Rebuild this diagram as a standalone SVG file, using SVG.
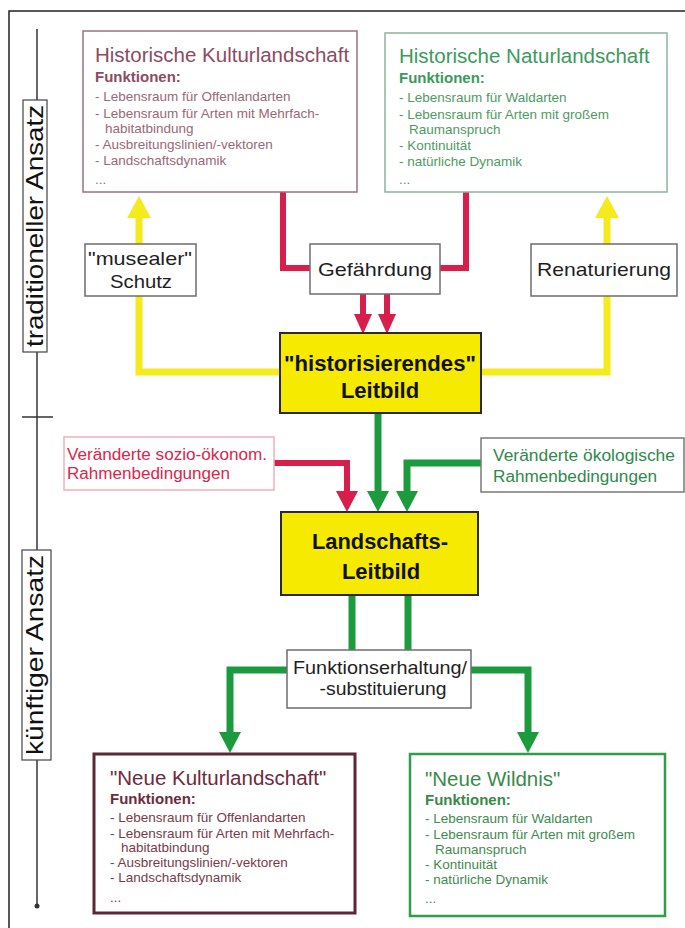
<svg xmlns="http://www.w3.org/2000/svg" width="685" height="928" viewBox="0 0 685 928">
<defs>
<style>
text{font-family:"Liberation Sans",Arial,sans-serif}
.bx{fill:#fff}
.small{fill:#fff;stroke:#6d6d6d;stroke-width:1.5}
.yel{fill:#f6ea00;stroke:#2a2a2a;stroke-width:2}
.lbl{font-size:19px;fill:#1e1e1e;text-anchor:middle}
.ttl{font-size:20.5px}
.fk{font-size:15px;font-weight:bold}
.bl{font-size:13.5px}
.yb{font-size:22px;font-weight:bold;fill:#111;text-anchor:middle}
.ax{font-size:24px;fill:#111;text-anchor:middle}
.cy{fill:none;stroke:#f4ea1c;stroke-width:7}
.cr{fill:none;stroke:#d81f4c;stroke-width:6}
.cg{fill:none;stroke:#1c9a3e;stroke-width:7}
</style>
<marker id="ahY" markerUnits="userSpaceOnUse" viewBox="0 0 22 24" markerWidth="22" markerHeight="24" refX="0" refY="12" orient="auto"><path d="M0,0 L22,12 L0,24 z" fill="#f4ea1c"/></marker>
<marker id="ahR" markerUnits="userSpaceOnUse" viewBox="0 0 20 18" markerWidth="20" markerHeight="18" refX="0" refY="9" orient="auto"><path d="M0,0 L20,9 L0,18 z" fill="#d81f4c"/></marker>
<marker id="ahR2" markerUnits="userSpaceOnUse" viewBox="0 0 21 22" markerWidth="21" markerHeight="22" refX="0" refY="11" orient="auto"><path d="M0,0 L21,11 L0,22 z" fill="#d81f4c"/></marker>
<marker id="ahG" markerUnits="userSpaceOnUse" viewBox="0 0 21 22" markerWidth="21" markerHeight="22" refX="0" refY="11" orient="auto"><path d="M0,0 L21,11 L0,22 z" fill="#1c9a3e"/></marker>
</defs>
<rect width="685" height="928" fill="#fff"/>
<path d="M9 928 V11 H685" fill="none" stroke="#222" stroke-width="1.5"/>

<g id="axis">
<line x1="37" y1="29" x2="37" y2="905" stroke="#333" stroke-width="1.5"/>
<circle cx="37" cy="906" r="2.5" fill="#333"/>
<line x1="22" y1="417" x2="53" y2="417" stroke="#333" stroke-width="1.5"/>
</g>
<g id="label-traditionell">
<rect x="23" y="100" width="24" height="252" fill="#fff" stroke="#444" stroke-width="1.2"/>
<text class="ax" transform="translate(43,226) rotate(-90)" textLength="242" lengthAdjust="spacingAndGlyphs">traditioneller Ansatz</text>
</g>
<g id="label-kuenftig">
<rect x="22" y="550" width="29" height="210" fill="#fff" stroke="#444" stroke-width="1.2"/>
<text class="ax" transform="translate(43,655) rotate(-90)" textLength="200" lengthAdjust="spacingAndGlyphs">künftiger Ansatz</text>
</g>

<g id="connectors">
<path class="cy" d="M280 372 H139 V218" marker-end="url(#ahY)"/>
<path class="cy" d="M481 372 H607 V218" marker-end="url(#ahY)"/>
<path class="cr" d="M283 192 V268 H310"/>
<path class="cr" d="M466 192 V268 H440"/>
<path class="cr" d="M363 293 V314" marker-end="url(#ahR)"/>
<path class="cr" d="M387 293 V314" marker-end="url(#ahR)"/>
<path class="cg" d="M378 413 V491" marker-end="url(#ahG)"/>
<path class="cr" d="M274 463 H347 V491" stroke-width="7" marker-end="url(#ahR2)"/>
<path class="cg" d="M481 463 H407 V491" marker-end="url(#ahG)"/>
<path class="cg" d="M352 595 V650"/>
<path class="cg" d="M408 595 V650"/>
<path class="cg" d="M287 670 H230 V732" marker-end="url(#ahG)"/>
<path class="cg" d="M471 670 H528 V732" marker-end="url(#ahG)"/>
</g>

<g id="hist-kultur">
<rect x="83" y="31" width="274" height="161" fill="#fff" stroke="#9a7080" stroke-width="1.5"/>
<text class="ttl" x="95" y="62" fill="#8e4a62">Historische Kulturlandschaft</text>
<text class="fk" x="95" y="82" fill="#8e4a62">Funktionen:</text>
<g class="bl" fill="#9a6878">
<text x="95" y="101">- Lebensraum für Offenlandarten</text>
<text x="95" y="118">- Lebensraum für Arten mit Mehrfach-</text>
<text x="105" y="133">habitatbindung</text>
<text x="95" y="149">- Ausbreitungslinien/-vektoren</text>
<text x="95" y="165">- Landschaftsdynamik</text>
<text x="95" y="184">...</text>
</g>
</g>

<g id="hist-natur">
<rect x="385" y="33" width="282" height="159" fill="#fff" stroke="#8ab49a" stroke-width="1.5"/>
<text class="ttl" x="399" y="63" fill="#3c9a5c">Historische Naturlandschaft</text>
<text class="fk" x="399" y="83" fill="#3c9a5c">Funktionen:</text>
<g class="bl" fill="#4f9a62">
<text x="399" y="102">- Lebensraum für Waldarten</text>
<text x="399" y="119">- Lebensraum für Arten mit großem</text>
<text x="409" y="134">Raumanspruch</text>
<text x="399" y="150">- Kontinuität</text>
<text x="399" y="166">- natürliche Dynamik</text>
<text x="399" y="184">...</text>
</g>
</g>

<g id="musealer">
<rect class="small" x="85" y="244" width="111" height="52"/>
<text class="lbl" x="140" y="265" textLength="104" lengthAdjust="spacingAndGlyphs">"musealer"</text>
<text class="lbl" x="141" y="288" textLength="62" lengthAdjust="spacingAndGlyphs">Schutz</text>
</g>

<g id="gefaehrdung">
<rect class="small" x="310" y="244" width="130" height="50"/>
<text class="lbl" x="375" y="276" textLength="114" lengthAdjust="spacingAndGlyphs">Gefährdung</text>
</g>

<g id="renaturierung">
<rect class="small" x="531" y="244" width="146" height="52"/>
<text class="lbl" x="604" y="276" textLength="134" lengthAdjust="spacingAndGlyphs">Renaturierung</text>
</g>

<g id="historisierendes">
<rect class="yel" x="280" y="333" width="201" height="80"/>
<text class="yb" x="380" y="371" textLength="192" lengthAdjust="spacingAndGlyphs">"historisierendes"</text>
<text class="yb" x="380" y="398">Leitbild</text>
</g>

<g id="sozio">
<rect x="64" y="437" width="210" height="53" fill="#fff" stroke="#f0b0ba" stroke-width="1.5"/>
<text x="67" y="460" font-size="16" fill="#d8264e" textLength="200" lengthAdjust="spacingAndGlyphs">Veränderte sozio-ökonom.</text>
<text x="67" y="479" font-size="16" fill="#d8264e" textLength="163" lengthAdjust="spacingAndGlyphs">Rahmenbedingungen</text>
</g>

<g id="oekologisch">
<rect x="481" y="438" width="203" height="54" fill="#fff" stroke="#7a7a7a" stroke-width="1.5"/>
<text x="493" y="461" font-size="16" fill="#2e8a4a" textLength="182" lengthAdjust="spacingAndGlyphs">Veränderte ökologische</text>
<text x="493" y="482" font-size="16" fill="#2e8a4a" textLength="164" lengthAdjust="spacingAndGlyphs">Rahmenbedingungen</text>
</g>

<g id="landschaftsleitbild">
<rect class="yel" x="281" y="512" width="197" height="83"/>
<text class="yb" x="380" y="549" font-size="21.5" textLength="136" lengthAdjust="spacingAndGlyphs">Landschafts-</text>
<text class="yb" x="381" y="579" font-size="21.5">Leitbild</text>
</g>

<g id="funktionserhaltung">
<rect class="small" x="287" y="650" width="184" height="58"/>
<text class="lbl" x="380" y="674" font-size="17" textLength="174" lengthAdjust="spacingAndGlyphs">Funktionserhaltung/</text>
<text class="lbl" x="383" y="695" font-size="17" textLength="127" lengthAdjust="spacingAndGlyphs">-substituierung</text>
</g>

<g id="neue-kultur">
<rect x="94" y="754" width="261" height="159" fill="#fff" stroke="#5e2636" stroke-width="3"/>
<text class="ttl" x="110" y="785" fill="#6e2a3e">"Neue Kulturlandschaft"</text>
<text class="fk" x="110" y="804" fill="#6e2a3e">Funktionen:</text>
<g class="bl" fill="#7a3a4a">
<text x="110" y="822">- Lebensraum für Offenlandarten</text>
<text x="110" y="838">- Lebensraum für Arten mit Mehrfach-</text>
<text x="121" y="852">habitatbindung</text>
<text x="110" y="867">- Ausbreitungslinien/-vektoren</text>
<text x="110" y="882">- Landschaftsdynamik</text>
<text x="110" y="902">...</text>
</g>
</g>

<g id="neue-wildnis">
<rect x="410" y="754" width="255" height="162" fill="#fff" stroke="#2e9e4a" stroke-width="2.5"/>
<text class="ttl" x="425" y="786" fill="#3a8a4a">"Neue Wildnis"</text>
<text class="fk" x="425" y="805" fill="#3a8a4a">Funktionen:</text>
<g class="bl" fill="#3f8a50">
<text x="425" y="823">- Lebensraum für Waldarten</text>
<text x="425" y="839">- Lebensraum für Arten mit großem</text>
<text x="435" y="854">Raumanspruch</text>
<text x="425" y="869">- Kontinuität</text>
<text x="425" y="884">- natürliche Dynamik</text>
<text x="425" y="903">...</text>
</g>
</g>
</svg>
